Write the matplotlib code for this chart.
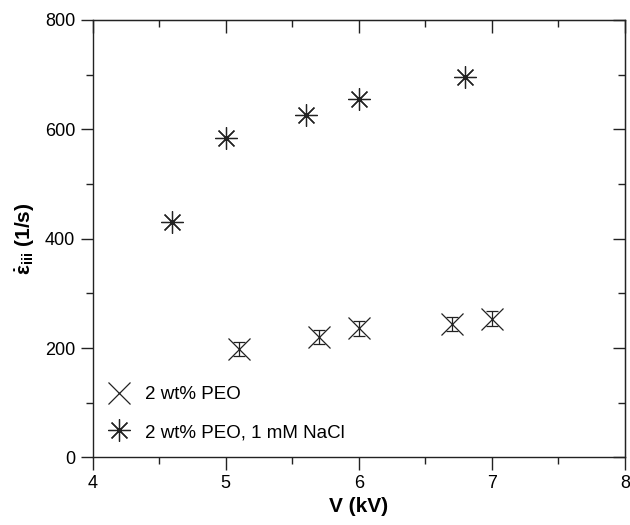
import matplotlib
matplotlib.use("Agg")
import matplotlib.pyplot as plt
from matplotlib.lines import Line2D
from matplotlib.ticker import MultipleLocator

plt.rcParams['font.family'] = ['Liberation Sans', 'DejaVu Sans']
plt.rcParams['mathtext.fontset'] = 'custom'
plt.rcParams['mathtext.rm'] = 'Liberation Sans:bold'
plt.rcParams['mathtext.it'] = 'Liberation Sans:bold'
plt.rcParams['mathtext.bf'] = 'Liberation Sans:bold'

# 2 wt% PEO
v_peo = [5.1, 5.7, 6.0, 6.7, 7.0]
rate_peo = [198, 220, 236, 244, 254]
err_peo = [13, 13, 13, 13, 13]

# 2 wt% PEO, 1 mM NaCl
v_nacl = [4.6, 5.0, 5.6, 6.0, 6.8]
rate_nacl = [430, 585, 627, 655, 695]

labels = ['2 wt% PEO', '2 wt% PEO, 1 mM NaCl']

ink = '#222222'
star = (8, 2, 0)

fig = plt.figure(figsize=(6.3, 5.25), dpi=100)
ax = fig.add_axes([0.147, 0.1286, 0.845, 0.8334])

ax.errorbar(v_peo, rate_peo, yerr=err_peo, fmt='x', ms=16.5, mew=0.9,
            color=ink, ecolor=ink, elinewidth=0.9, capsize=4, capthick=0.9)
ax.plot(v_nacl, rate_nacl, linestyle='none', marker=star, ms=16,
        mew=0.9, color=ink)

ax.set_xlim(4, 8)
ax.set_ylim(0, 800)
ax.xaxis.set_major_locator(MultipleLocator(1))
ax.xaxis.set_minor_locator(MultipleLocator(0.5))
ax.yaxis.set_major_locator(MultipleLocator(200))
ax.yaxis.set_minor_locator(MultipleLocator(100))

# outward ticks on bottom/left, inward on top/right
ax.tick_params(which='both', direction='out', top=False, right=False,
               width=1.0, color=ink, labelsize=13, labelcolor='black')
ax.tick_params(which='major', length=9)
ax.tick_params(which='minor', length=5)
for sp in ax.spines.values():
    sp.set_linewidth(1.0)
    sp.set_color(ink)

axt = ax.secondary_xaxis('top')
axt.xaxis.set_major_locator(MultipleLocator(1))
axt.xaxis.set_minor_locator(MultipleLocator(0.5))
axt.tick_params(which='both', direction='in', labeltop=False, width=1.0, color=ink)
axt.tick_params(which='major', length=9)
axt.tick_params(which='minor', length=5)
axr = ax.secondary_yaxis('right')
axr.yaxis.set_major_locator(MultipleLocator(200))
axr.yaxis.set_minor_locator(MultipleLocator(100))
axr.tick_params(which='both', direction='in', labelright=False, width=1.0, color=ink)
axr.tick_params(which='major', length=9)
axr.tick_params(which='minor', length=5)

ax.set_xlabel('V (kV)', fontsize=15, fontweight='bold', labelpad=4)
ax.set_ylabel(r'$\dot{\varepsilon}_{\mathrm{iii}}$ (1/s)', fontsize=15,
              fontweight='bold', labelpad=6)

handles = [Line2D([], [], linestyle='none', marker='x', ms=16.5, mew=0.9, color=ink),
           Line2D([], [], linestyle='none', marker=star, ms=16, mew=0.9, color=ink)]
ax.legend(handles, labels, loc='upper left', bbox_to_anchor=(0.029, 0.163),
          frameon=False, fontsize=13.5, handlelength=1.2, handletextpad=0.77,
          labelspacing=1.1, borderaxespad=0, borderpad=0)

fig.savefig('out.png', dpi=100)
